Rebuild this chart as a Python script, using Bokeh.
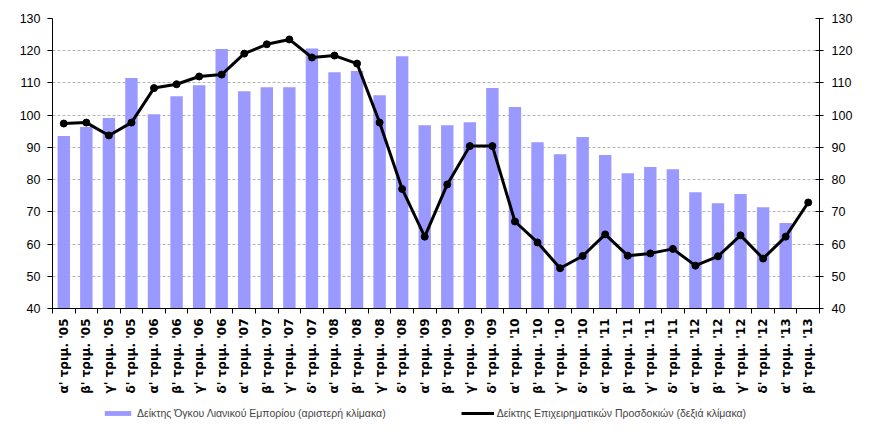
import math
import numpy as np
from bokeh.plotting import figure
from bokeh.layouts import column
from bokeh.models import Range1d, LinearAxis, FixedTicker, Legend, LegendItem, ColumnDataSource
from bokeh.core.properties import value
from bokeh.embed import file_html
from bokeh.resources import INLINE

quarters = [
    "α' τριμ. '05", "β' τριμ. '05", "γ' τριμ. '05", "δ' τριμ. '05",
    "α' τριμ. '06", "β' τριμ. '06", "γ' τριμ. '06", "δ' τριμ. '06",
    "α' τριμ. '07", "β' τριμ. '07", "γ' τριμ. '07", "δ' τριμ. '07",
    "α' τριμ. '08", "β' τριμ. '08", "γ' τριμ. '08", "δ' τριμ. '08",
    "α' τριμ. '09", "β' τριμ. '09", "γ' τριμ. '09", "δ' τριμ. '09",
    "α' τριμ. '10", "β' τριμ. '10", "γ' τριμ. '10", "δ' τριμ. '10",
    "α' τριμ. '11", "β' τριμ. '11", "γ' τριμ. '11", "δ' τριμ. '11",
    "α' τριμ. '12", "β' τριμ. '12", "γ' τριμ. '12", "δ' τριμ. '12",
    "α' τριμ. '13", "β' τριμ. '13",
]

retail_volume = [
    93.5, 96.3, 99.1, 111.5, 100.3, 105.9, 109.3, 120.5, 107.4, 108.7, 108.7,
    120.7, 113.3, 113.7, 106.2, 118.3, 96.9, 96.9, 97.8, 108.4, 102.5, 91.6,
    87.9, 93.2, 87.6, 82.0, 83.9, 83.2, 76.1, 72.7, 75.5, 71.4, 66.5,
]

business_expectations = [
    97.4, 97.7, 93.7, 97.7, 108.4, 109.6, 112.0, 112.6, 119.1, 122.0, 123.5,
    117.9, 118.5, 116.0, 97.7, 77.1, 62.3, 78.5, 90.4, 90.4, 67.0, 60.5, 52.5,
    56.3, 63.0, 56.4, 57.1, 58.5, 53.3, 56.2, 62.7, 55.5, 62.3, 72.9,
]

y_ticks = [40, 50, 60, 70, 80, 90, 100, 110, 120, 130]

label_retail = "Δείκτης Όγκου Λιανικού Εμπορίου (αριστερή κλίμακα)"
label_business = "Δείκτης Επιχειρηματικών Προσδοκιών (δεξιά κλίμακα)"

n = len(quarters)
idx = np.arange(n)
x_range = Range1d(-0.5, n - 0.5)

# ---------------- main chart ----------------
p = figure(
    width=861, height=316,
    min_border_left=52, min_border_right=42, min_border_top=18, min_border_bottom=8,
    x_range=x_range, y_range=Range1d(40, 130),
    output_backend="svg", toolbar_location=None,
    background_fill_color="white", border_fill_color="white",
)
p.outline_line_color = None
p.extra_y_ranges = {"right": Range1d(40, 130)}

bars = p.vbar(x=idx[:len(retail_volume)], top=retail_volume, bottom=0, width=0.55,
              fill_color="#9999FF", line_color=None)
line = p.line(x=idx, y=business_expectations, y_range_name="right",
              line_color="black", line_width=3)
dots = p.scatter(x=idx, y=business_expectations, y_range_name="right",
                 size=7, fill_color="black", line_color="black")

xa = p.xaxis[0]
xa.ticker = FixedTicker(ticks=[], minor_ticks=list(np.arange(n + 1) - 0.5))
xa.major_label_standoff = 0
xa.major_tick_out = 0
xa.major_tick_in = 0
xa.minor_tick_out = 5
xa.minor_tick_in = 0
xa.minor_tick_line_color = "black"
xa.axis_line_color = "black"

ya = p.yaxis[0]
ya.ticker = FixedTicker(ticks=y_ticks)
ya.major_tick_out = 5
ya.major_tick_in = 0
ya.minor_tick_line_color = None
ya.axis_line_color = "black"
ya.major_label_standoff = 7
ya.major_label_text_font = "Liberation Sans"
ya.major_label_text_font_size = "12.5px"
ya.major_label_text_color = "black"

ra = LinearAxis(y_range_name="right", ticker=FixedTicker(ticks=y_ticks))
ra.major_tick_out = 4
ra.major_tick_in = 4
ra.minor_tick_line_color = None
ra.axis_line_color = "black"
ra.major_label_standoff = 8
ra.major_label_text_font = "Liberation Sans"
ra.major_label_text_font_size = "12.5px"
ra.major_label_text_color = "black"
p.add_layout(ra, "right")

p.xgrid.grid_line_color = None
p.ygrid.ticker = FixedTicker(ticks=y_ticks)
p.ygrid.grid_line_color = "#b4b4b4"
p.ygrid.grid_line_dash = "3 2"
p.ygrid.grid_line_width = 1

# ---------------- category labels + legend strip ----------------
lab = figure(
    width=861, height=112,
    min_border_left=52, min_border_right=42, min_border_top=0, min_border_bottom=0,
    x_range=x_range, y_range=Range1d(0, 112),
    x_axis_location=None, y_axis_location=None,
    output_backend="svg", toolbar_location=None,
    background_fill_color="white", border_fill_color="white",
)
lab.outline_line_color = None
lab.xgrid.grid_line_color = None
lab.ygrid.grid_line_color = None

lab_src = ColumnDataSource(dict(x=idx, y=np.full(n, 110.0), t=quarters))
lab.text(x="x", y="y", text="t", source=lab_src, angle=math.pi / 2,
         text_align="right", text_baseline="middle",
         text_font=value("DejaVu Sans"), text_font_style="bold",
         text_font_size="12px", text_color="black")

# legend proxies placed outside the visible range
proxy = ColumnDataSource(dict(x=[-100.0], y=[-100.0]))
lg_bar = lab.vbar(x="x", top="y", width=0.5, source=proxy,
                  fill_color="#9999FF", line_color=None)
lg_line = lab.line(x="x", y="y", source=proxy, line_color="black", line_width=3)
lg_dot = lab.scatter(x="x", y="y", source=proxy, size=7,
                     fill_color="black", line_color="black")

legend = Legend(
    items=[LegendItem(label=label_retail, renderers=[lg_bar]),
           LegendItem(label=label_business, renderers=[lg_line, lg_dot])],
    orientation="horizontal", location=(49, 9),
    spacing=75, glyph_width=33, glyph_height=6, label_standoff=3,
    label_text_font="Liberation Sans", label_text_font_size="10.5px",
    label_height=10, padding=2, margin=0,
    border_line_color=None, background_fill_alpha=0,
)
lab.add_layout(legend, "center")

layout = column(p, lab, spacing=0)
open("out.html", "w").write(file_html(layout, INLINE))
